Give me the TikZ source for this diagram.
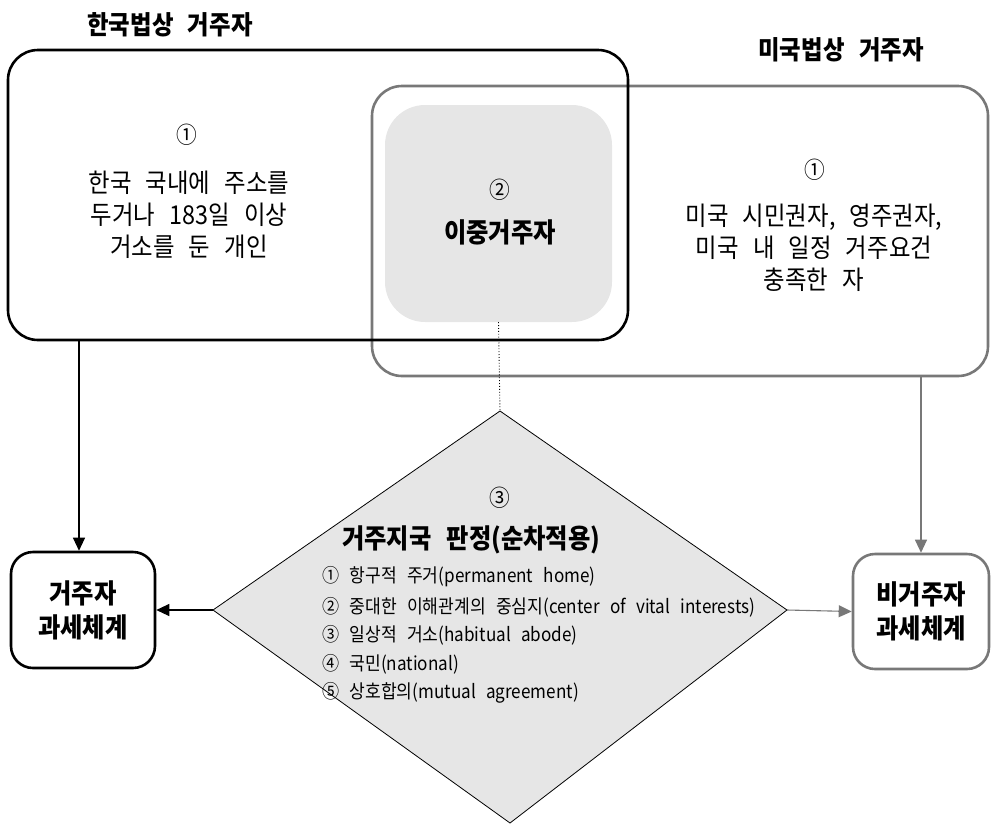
\documentclass[tikz,border=0pt]{standalone}
\usepackage{fontspec}
\setmainfont{Noto Sans CJK KR}[WordSpace=2.7, FakeStretch=0.9]
\usetikzlibrary{arrows.meta}
\definecolor{grayline}{HTML}{787878}
\definecolor{fillgray}{HTML}{E6E6E6}
\tikzset{
  bigbox/.style={draw, line width=2.6pt, rounded corners=30pt, inner sep=0pt},
  resbox/.style={draw, line width=2.6pt, rounded corners=22pt, inner sep=0pt, align=center,
    font=\fontsize{27}{34}\selectfont\bfseries},
  bodytext/.style={align=center, font=\fontsize{26}{32}\selectfont},
  numtext/.style={font=\fontsize{23}{26}\selectfont},
  titletext/.style={font=\fontsize{26}{28}\selectfont\bfseries},
  itemtext/.style={anchor=west, inner sep=0pt, font=\fontsize{19}{22}\selectfont},
  arr/.style={line width=1.1pt, -{Triangle[length=13pt,width=12pt]}},
}
\begin{document}
\begin{tikzpicture}[x=1pt,y=-1pt]
\useasboundingbox (0,0) rectangle (992,825);
% titles
\node[titletext] (t1) at (170,25) {한국법상 거주자};
\node[titletext] (t2) at (841,50) {미국법상 거주자};
% US box (under)
\node[bigbox, draw=grayline, minimum width=616pt, minimum height=290pt] (us) at (680,231) {};
% dual residence shaded box
\node[fill=fillgray, rounded corners=40pt, minimum width=227pt, minimum height=217pt, inner sep=0pt] (dual) at (498.5,213.5) {};
% Korean box
\node[bigbox, minimum width=620pt, minimum height=290pt] (kr) at (318,195) {};
% texts
\node[numtext] (krn) at (187,135) {①};
\node[bodytext] (krt) at (189,215) {한국 국내에 주소를\\두거나 183일 이상\\거소를 둔 개인};
\node[numtext] (usn) at (815,170) {①};
\node[bodytext] (ust) at (814,248) {미국 시민권자, 영주권자,\\미국 내 일정 거주요건\\충족한 자};
\node[numtext] (dualn) at (500,190) {②};
\node[font=\fontsize{27}{30}\selectfont\bfseries] (dualt) at (500,232) {이중거주자};
% diamond
\coordinate (dT) at (500,411);
\coordinate (dR) at (787,610);
\coordinate (dB) at (510,823);
\coordinate (dL) at (213,610);
\draw[fill=fillgray, line width=0.8pt] (dT) -- (dR) -- (dB) -- (dL) -- cycle;
\draw[dotted, line width=0.9pt] (dual.south) -- (dT);
\node[numtext] (d3) at (500,498) {③};
\node[anchor=west, font=\fontsize{27}{28}\selectfont\bfseries, inner sep=0pt] (dtitle) at (342,540) {거주지국 판정(순차적용)};
\node[itemtext] (i1) at (322,577) {① 항구적 주거(permanent home)};
\node[itemtext] (i2) at (322,607) {② 중대한 이해관계의 중심지(center of vital interests)};
\node[itemtext] (i3) at (322,635) {③ 일상적 거소(habitual abode)};
\node[itemtext] (i4) at (322,664) {④ 국민(national)};
\node[itemtext] (i5) at (322,693) {⑤ 상호합의(mutual agreement)};
% result boxes
\node[resbox, minimum width=144pt, minimum height=116pt] (lbox) at (83,610) {거주자\\과세체계};
\node[resbox, draw=grayline, minimum width=136pt, minimum height=115pt] (rbox) at (921,611.5) {비거주자\\과세체계};
% arrows
\draw[arr] ([xshift=-4pt]lbox.north |- kr.south) -- ([xshift=-4pt]lbox.north);
\draw[arr, grayline] (rbox.north |- us.south) -- (rbox.north);
\draw[arr] (dL) -- (lbox.east);
\draw[arr, grayline] (dR) -- (rbox.west);
\end{tikzpicture}
\end{document}
